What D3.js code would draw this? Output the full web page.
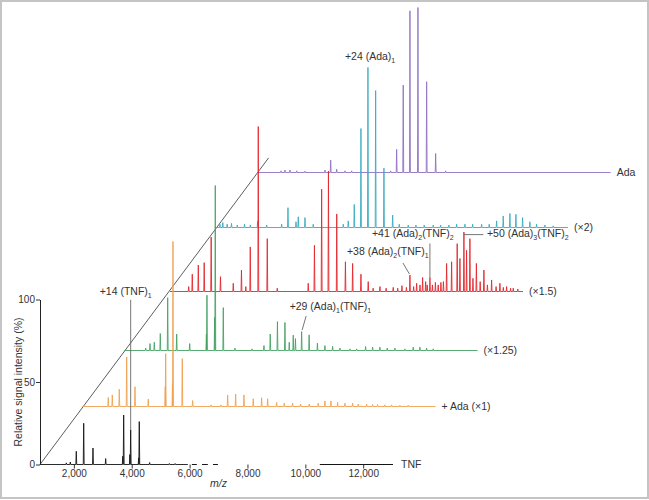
<!DOCTYPE html>
<html>
<head>
<meta charset="utf-8">
<script src="https://cdn.jsdelivr.net/npm/d3@7"></script>
<style>
  body {margin: 0; background: #fff;}
  svg {display: block; font-family: "Liberation Sans", Arial, sans-serif;}
  .tick text {fill: #333; font-size: 10px;}
  .tick line {stroke: #333;}
</style>
</head>
<body>
<script>
// peaks: [m/z, relative intensity %]
const tnfPeaks = [[1740, 1], [1877, 1.5], [2084, 8], [2340, 25], [2661, 10], [3100, 3.6], [3690, 5],
  [3722, 30], [3935, 6], [3964, 21], [4240, 4], [4261, 26], [4620, 1.2], [5300, 0.6], [5500, 0.6]]
const adaX1Peaks = [[1721, 5.5], [1860, 7], [2101, 10.5], [2357, 30], [2644, 12], [3103, 4.5], [3690, 12],
  [3705, 32], [3940, 14], [3957, 100], [4278, 29], [4637, 3.6], [5270, 1], [5615, 1], [5847, 7], [6123, 7.5],
  [6410, 7], [6731, 4.7], [7021, 5.3], [7229, 4.7], [7540, 2.5], [7802, 2], [8092, 2], [8369, 1.5], [8666, 1.5],
  [8977, 2], [9209, 3.4], [9416, 3.4], [9647, 2.5], [9900, 2], [10165, 2], [10359, 1.5], [10649, 1.5],
  [10856, 1.2], [11029, 1.2], [11281, 1], [11513, 1], [11800, 0.8], [12087, 0.8]]
const adaX125Peaks = [[1562, 1.5], [1711, 4.2], [1860, 5], [2067, 10.3], [2323, 32], [2634, 10], [3083, 4.2],
  [3660, 10], [3680, 33.5], [3945, 20], [3967, 100], [4244, 26], [4648, 1.5], [5235, 1], [5650, 3], [5867, 10],
  [6116, 17.5], [6375, 17], [6524, 5], [6662, 9.3], [6738, 7.2], [6952, 11.5], [7211, 9.5], [7498, 4.5],
  [7757, 3], [8023, 2.5], [8275, 1.5], [8621, 1], [8852, 1], [9163, 2.4], [9405, 2], [9658, 2], [9910, 1.5],
  [10176, 1.5], [10521, 1], [10808, 2], [11040, 2], [11271, 1.5], [11499, 1]]
const adaX15Peaks = [[1476, 3], [1600, 10.5], [1808, 16], [2012, 17.5], [2253, 33], [2575, 9], [3017, 5],
  [3300, 13], [3450, 3], [3604, 27], [3881, 100], [4192, 32], [4537, 2], [5608, 5], [5822, 28], [6071, 62],
  [6306, 73], [6593, 47], [6893, 18], [7142, 17], [7429, 10.5], [7681, 6], [7850, 2], [8086, 3], [8300, 2],
  [8545, 2.5], [8700, 2], [8846, 3.5], [9000, 2.5], [9122, 10], [9250, 3], [9354, 5], [9470, 4], [9561, 8.5],
  [9665, 6], [9720, 4], [9813, 8.5], [9900, 4], [10003, 5.5], [10100, 4], [10193, 5.5], [10280, 6], [10390, 17],
  [10563, 18], [10756, 29], [10850, 20], [10988, 36], [11080, 25], [11195, 32], [11300, 8], [11419, 17],
  [11550, 6], [11679, 13], [11800, 4], [11945, 7], [12100, 3], [12232, 5], [12350, 2.5], [12463, 3],
  [12600, 2], [12693, 2], [12850, 1.5]]
const adaX2Peaks = [[1000, 2], [1100, 3], [1250, 2], [1400, 2.5], [1600, 1.5], [1850, 2], [2050, 1.5],
  [2305, 4], [2616, 1.5], [3134, 2], [3352, 12], [3629, 3.5], [3708, 6.5], [3940, 6], [4226, 2], [5263, 2],
  [5436, 4], [5643, 14], [5874, 60], [6116, 97], [6382, 83], [6669, 36], [6970, 7.5], [7198, 2], [7509, 1.5],
  [7775, 1.5], [8061, 1.5], [8373, 1.5], [8628, 1.5], [8915, 1.5], [9181, 2], [9468, 2], [9734, 2], [10044, 2],
  [10307, 2], [10563, 4], [10791, 7], [11022, 8.5], [11230, 8], [11461, 6], [11713, 3.5], [11944, 2],
  [12232, 1.5], [12519, 1]]
const adaPeaks = [[1635, 1], [1773, 1.5], [1946, 1.5], [2177, 1], [2464, 0.8], [3155, 1.5], [3352, 7.5],
  [3560, 2], [3846, 1], [4078, 1], [5425, 1], [5632, 14], [5860, 53], [6092, 98], [6368, 100], [6669, 55],
  [6980, 11.5], [7325, 1]]

const traceNames = ['TNF', '+ Ada (×1)', '(×1.25)', '(×1.5)', '(×2)', 'Ada']
const traceData = [tnfPeaks, adaX1Peaks, adaX125Peaks, adaX15Peaks, adaX2Peaks, adaPeaks]
const traceColors = ['#151515', '#f0a050', '#45a363', '#e2282e', '#3aacbf', '#9170c2']

const mzDomain = [830, 13030]
const xTicks = [2000, 4000, 6000, 8000, 10000, 12000]
const yTicks = [0, 50, 100]
// visible pieces of the TNF baseline / m/z axis line
const tnfBaseSpans = [[830, 5940], [6080, 6250], [6430, 6630], [6810, 6980], [10500, 13030]]

const annotations = [
  {trace: 0, mz: 3964, text: '+14 (TNF)_1', dx: -31, dy: -132, leader: [[0, -130], [0, 0]]},
  {trace: 2, mz: 6952, text: '+29 (Ada)_1(TNF)_1', dx: -12, dy: -19, leader: [[4.5, -15.5], [0.5, -1.5]]},
  {trace: 3, mz: 9122, text: '+38 (Ada)_2(TNF)_1', dx: -63, dy: -17, leader: [[-7, -12], [-0.5, -1]]},
  {trace: 3, mz: 9813, text: '+41 (Ada)_2(TNF)_2', dx: -58, dy: -37, leader: [[0, -34], [0, 0]]},
  {trace: 3, mz: 10988, text: '+50 (Ada)_3(TNF)_2', dx: 23, dy: 8, leader: [[0, 2.5], [19.5, 2.5]]},
  {trace: 4, mz: 6116, text: '+24 (Ada)_1', dx: -23, dy: -4, leader: null}
]

const svgWidth = 649
const svgHeight = 500
const svg = d3.select('body').append('svg')
  .attr('width', svgWidth).attr('height', svgHeight)

svg.append('rect')
  .attr('x', 1).attr('y', 1).attr('width', 647).attr('height', 497)
  .attr('fill', 'none').attr('stroke', '#c4c4c4').attr('stroke-width', 2)

// each spectrum is shifted along the diagonal
const origins = [[40, 464.5], [82.5, 406.5], [124.5, 350.5], [170, 291.5], [215, 227.5], [257.7, 172.5]]

const x = d3.scaleLinear().domain(mzDomain).range([0, 353])
const y = d3.scaleLinear().domain([0, 100]).range([0, -165])

const halfWidth = 15
function spectrum(peaks, lo, hi) {
  const pts = [[lo, 0]]
  peaks.filter(p => p[0] > lo && p[0] < hi).sort((a, b) => a[0] - b[0]).forEach(p => {
    pts.push([p[0] - halfWidth, 0], [p[0], p[1]], [p[0] + halfWidth, 0])
  })
  pts.push([hi, 0])
  return pts
}
const line = d3.line().x(d => x(d[0])).y(d => y(d[1]))

// diagonal through the spectrum origins
const o0 = origins[0], o5 = origins[5]
svg.append('line')
  .attr('x1', o0[0]).attr('y1', o0[1])
  .attr('x2', o0[0] + (o5[0] - o0[0]) * 1.05).attr('y2', o0[1] + (o5[1] - o0[1]) * 1.05)
  .attr('stroke', '#333').attr('stroke-width', 0.8)

// draw back to front
for (let i = traceData.length - 1; i >= 0; i--) {
  const g = svg.append('g').attr('transform', `translate(${origins[i][0]},${origins[i][1]})`)
  const hi = i === 0 ? tnfBaseSpans[0][1] : mzDomain[1]
  g.append('path')
    .attr('d', line(spectrum(traceData[i], mzDomain[0], hi)))
    .attr('fill', 'none').attr('stroke', traceColors[i])
    .attr('stroke-width', 0.9).attr('stroke-linejoin', 'bevel')
  if (i === 0) {
    g.selectAll('.span').data(tnfBaseSpans.slice(1)).enter().append('line')
      .attr('x1', d => x(d[0])).attr('x2', d => x(d[1]))
      .attr('stroke', traceColors[0]).attr('stroke-width', 1)
  }
  g.append('text')
    .attr('x', x(mzDomain[1]) + (i === 0 ? 8 : 6)).attr('dy', '0.35em')
    .attr('font-size', '10.5px').attr('fill', '#333')
    .text(traceNames[i])
}

// axes
const gx = svg.append('g').attr('transform', `translate(${origins[0][0]},${origins[0][1]})`)
  .call(d3.axisBottom(x).tickValues(xTicks).tickSize(4).tickPadding(1).tickFormat(d3.format(',')))
gx.select('.domain').remove()
gx.selectAll('text').attr('font-family', null).attr('font-size', null)

const gy = svg.append('g').attr('transform', `translate(${origins[0][0]},${origins[0][1]})`)
  .call(d3.axisLeft(y).tickValues(yTicks).tickSize(4).tickPadding(1).tickSizeOuter(0))
gy.select('.domain').attr('stroke', '#222')
gy.selectAll('text').attr('font-family', null).attr('font-size', null)

svg.append('text')
  .attr('transform', `translate(22,${origins[0][1] + y(50)}) rotate(-90)`)
  .attr('text-anchor', 'middle').attr('font-size', '10.5px').attr('fill', '#333')
  .text('Relative signal intensity (%)')

svg.append('text')
  .attr('x', origins[0][0] + x(7000)).attr('y', 487)
  .attr('text-anchor', 'middle').attr('font-size', '10.5px').attr('font-style', 'italic').attr('fill', '#333')
  .text('m/z')

// peak annotations with subscripts
annotations.forEach(a => {
  const peak = traceData[a.trace].find(p => p[0] === a.mz)
  const px = origins[a.trace][0] + x(peak[0])
  const py = origins[a.trace][1] + y(peak[1])
  if (a.leader) {
    svg.append('path')
      .attr('d', d3.line()(a.leader.map(p => [px + p[0], py + p[1]])))
      .attr('fill', 'none').attr('stroke', '#666').attr('stroke-width', 0.9)
  }
  const t = svg.append('text').attr('x', px + a.dx).attr('y', py + a.dy)
    .attr('font-size', '10.5px').attr('fill', '#333')
  a.text.split(/(_\d)/).filter(s => s).forEach(s => {
    if (s[0] === '_') {
      t.append('tspan').attr('dy', 3).attr('font-size', '7px').text(s.slice(1))
    } else {
      t.append('tspan').attr('dy', t.selectAll('tspan').size() ? -3 : 0).text(s)
    }
  })
})
</script>
</body>
</html>
